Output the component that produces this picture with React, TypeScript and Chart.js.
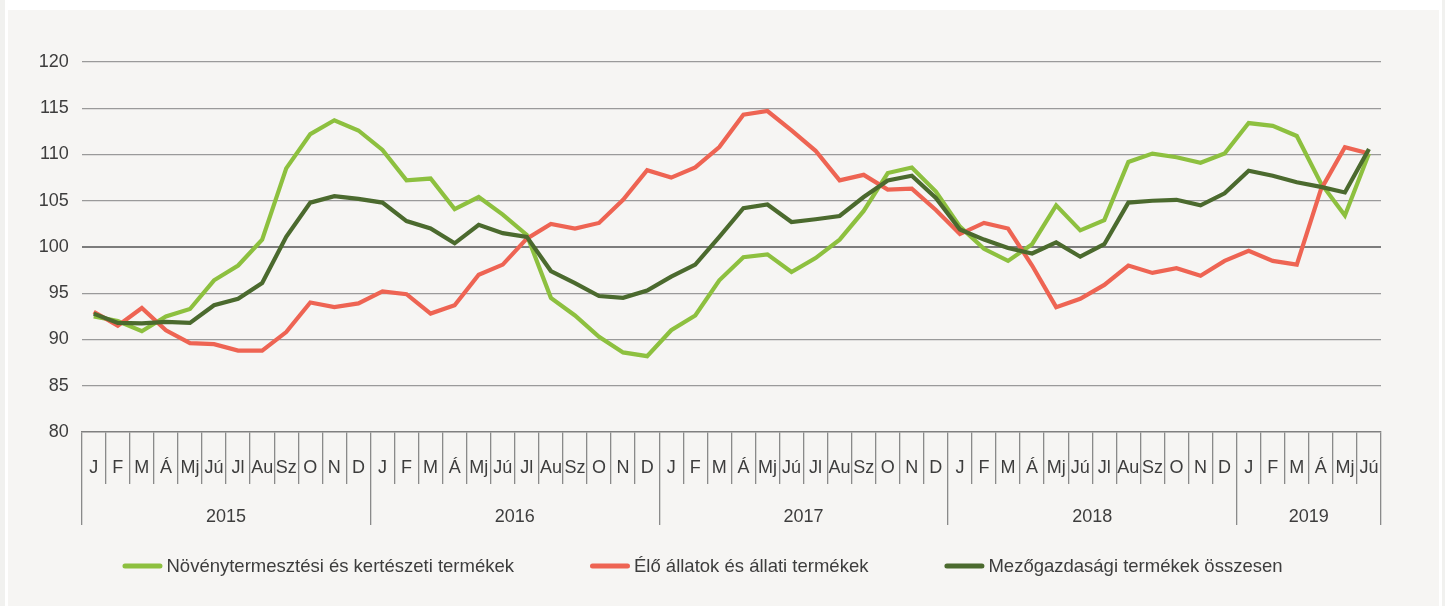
import React, { useEffect, useRef } from 'react';
import { Chart, registerables } from 'chart.js';

Chart.register(...registerables);

const monthNames = ['J', 'F', 'M', 'Á', 'Mj', 'Jú', 'Jl', 'Au', 'Sz', 'O', 'N', 'D'];
const years = ['2015', '2016', '2017', '2018', '2019'];
const monthsPerYear = [12, 12, 12, 12, 6];
const categories = years.flatMap((_, i) => monthNames.slice(0, monthsPerYear[i]));

const seriesNames = [
  'Növénytermesztési és kertészeti termékek',
  'Élő állatok és állati termékek',
  'Mezőgazdasági termékek összesen',
];

const novenyValues = [
  92.5, 92.0, 90.9, 92.5, 93.3, 96.4, 98.0, 100.8, 108.5, 112.2, 113.7, 112.6,
  110.5, 107.2, 107.4, 104.1, 105.4, 103.5, 101.3, 94.5, 92.6, 90.3, 88.6, 88.2,
  91.0, 92.6, 96.4, 98.9, 99.2, 97.3, 98.8, 100.8, 103.9, 108.0, 108.6, 106.0,
  102.2, 99.8, 98.5, 100.3, 104.5, 101.8, 102.9, 109.2, 110.1, 109.7, 109.1, 110.1,
  113.4, 113.1, 112.0, 106.9, 103.4, 110.1,
];

const eloValues = [
  93.0, 91.5, 93.4, 91.0, 89.6, 89.5, 88.8, 88.8, 90.8, 94.0, 93.5, 93.9,
  95.2, 94.9, 92.8, 93.7, 97.0, 98.1, 100.9, 102.5, 102.0, 102.6, 105.1, 108.3,
  107.5, 108.6, 110.8, 114.3, 114.7, 112.6, 110.4, 107.2, 107.8, 106.2, 106.3, 104.0,
  101.4, 102.6, 102.0, 98.0, 93.5, 94.4, 95.9, 98.0, 97.2, 97.7, 96.9, 98.5,
  99.6, 98.5, 98.1, 106.2, 110.8, 110.1,
];

const osszesValues = [
  92.8, 91.8, 91.75, 91.9, 91.8, 93.7, 94.4, 96.1, 101.1, 104.8, 105.5, 105.2,
  104.8, 102.8, 102.0, 100.4, 102.4, 101.5, 101.1, 97.4, 96.1, 94.7, 94.5, 95.3,
  96.8, 98.1, 101.1, 104.2, 104.6, 102.7, 103.0, 103.35, 105.4, 107.2, 107.7, 105.3,
  101.9, 100.8, 99.9, 99.3, 100.5, 98.95, 100.3, 104.8, 105.0, 105.1, 104.5, 105.8,
  108.25, 107.7, 107.0, 106.5, 105.9, 110.6,
];

const yMin = 80;
const yMax = 120;
const yStep = 5;

const FONT = "'Liberation Sans Narrow', 'Arial Narrow', 'Liberation Sans', Arial, sans-serif";
const FS = 18;
const LEGEND_FS = 18.5;
const TEXT = '#3d3d3d';
const colors = ['#8DC03F', '#EE6453', '#4B6A2E'];

// year boundaries and centres on the category index scale
const boundaries: number[] = [];
const yearCenters: { value: number; label: string }[] = [];
{
  let start = 0;
  boundaries.push(-0.5);
  monthsPerYear.forEach((n, i) => {
    yearCenters.push({ value: start + n / 2 - 0.5, label: years[i] });
    start += n;
    boundaries.push(start - 0.5);
  });
}

const bottomLegend = {
  id: 'bottomLegend',
  afterDraw(chart: any) {
    const ctx = chart.ctx as CanvasRenderingContext2D;
    const area = chart.chartArea;
    ctx.save();
    ctx.font = `${LEGEND_FS}px ${FONT}`;
    const sample = 40;
    const gapText = 4;
    const gapItem = 76;
    const items = chart.data.datasets.map((ds: any) => ({
      text: ds.label as string,
      color: ds.borderColor as string,
      w: ctx.measureText(ds.label).width,
    }));
    const total =
      items.reduce((s: number, it: any) => s + sample + gapText + it.w, 0) + gapItem * (items.length - 1);
    let x = chart.width / 2 - 20 - total / 2;
    const y = area.bottom + 134;
    ctx.textBaseline = 'middle';
    ctx.textAlign = 'left';
    items.forEach((it: any) => {
      ctx.strokeStyle = it.color;
      ctx.lineWidth = 5;
      ctx.lineCap = 'round';
      ctx.beginPath();
      ctx.moveTo(x + 2.5, y);
      ctx.lineTo(x + sample - 2.5, y);
      ctx.stroke();
      ctx.fillStyle = TEXT;
      ctx.fillText(it.text, x + sample + gapText, y + 1);
      x += sample + gapText + it.w + gapItem;
    });
    ctx.restore();
  },
};

export default function App() {
  const ref = useRef<HTMLCanvasElement | null>(null);

  useEffect(() => {
    if (!ref.current) return;
    const chart = new Chart(ref.current, {
      type: 'line',
      data: {
        labels: categories,
        datasets: [novenyValues, eloValues, osszesValues].map((vals, i) => ({
          label: seriesNames[i],
          data: vals,
          borderColor: colors[i],
          backgroundColor: colors[i],
          borderWidth: 4.2,
          pointRadius: 0,
          tension: 0,
          fill: false,
          order: 3 - i,
        })),
      },
      plugins: [bottomLegend],
      options: {
        animation: false,
        responsive: true,
        maintainAspectRatio: false,
        layout: { padding: { left: 24, right: 64, top: 62, bottom: 76 } },
        plugins: {
          tooltip: { enabled: false },
          legend: { display: false },
        },
        scales: {
          y: {
            min: yMin,
            max: yMax,
            afterFit: (s: any) => {
              s.width = 57.7;
            },
            ticks: {
              stepSize: yStep,
              padding: 13,
              color: TEXT,
              font: { family: FONT, size: FS },
            },
            border: { display: false },
            grid: {
              drawTicks: false,
              color: (ctx: any) => {
                const v = ctx.tick && ctx.tick.value;
                if (v === yMin) return 'rgba(0,0,0,0)';
                if (v === 100) return '#7c7c7c';
                return '#9a9a9a';
              },
              lineWidth: (ctx: any) => (ctx.tick && ctx.tick.value === 100 ? 2 : 1.2),
            },
          },
          x: {
            type: 'category',
            position: 'bottom',
            offset: true,
            afterFit: (s: any) => {
              s.height = 52;
            },
            border: { display: true, color: '#808080', width: 1.5 },
            grid: {
              offset: true,
              drawOnChartArea: false,
              drawTicks: true,
              tickLength: 52,
              color: '#8a8a8a',
              lineWidth: 1.3,
            },
            ticks: {
              autoSkip: false,
              maxRotation: 0,
              minRotation: 0,
              padding: -26.8,
              color: TEXT,
              font: { family: FONT, size: FS },
            },
          },
          x2: {
            type: 'linear',
            position: 'bottom',
            min: -0.5,
            max: categories.length - 0.5,
            afterFit: (s: any) => {
              s.height = 46;
            },
            afterBuildTicks: (s: any) => {
              s.ticks = [
                ...boundaries.map((v) => ({ value: v })),
                ...yearCenters.map((c) => ({ value: c.value })),
              ].sort((a, b) => a.value - b.value);
            },
            border: { display: false },
            grid: {
              drawOnChartArea: false,
              drawTicks: true,
              tickLength: 41,
              color: (ctx: any) =>
                ctx.tick && boundaries.includes(ctx.tick.value) ? '#8a8a8a' : 'rgba(0,0,0,0)',
              lineWidth: 1.3,
            },
            ticks: {
              autoSkip: false,
              maxRotation: 0,
              minRotation: 0,
              padding: -18.8,
              color: TEXT,
              font: { family: FONT, size: FS },
              callback: (value: any) => {
                const c = yearCenters.find((y) => y.value === value);
                return c ? c.label : '';
              },
            },
          },
        },
      },
    } as any);
    return () => chart.destroy();
  }, []);

  return (
    <div style={{ position: 'absolute', left: 0, top: 0, width: 1445, height: 606, background: '#F1F1EF', overflow: 'hidden' }}>
      <div
        style={{
          position: 'absolute',
          left: 5,
          top: 0,
          width: 1431,
          height: 700,
          background: '#F6F5F3',
          borderLeft: '3px solid #fff',
          borderRight: '3px solid #fff',
          borderTop: '10px solid #fff',
        }}
      />
      <div style={{ position: 'absolute', left: 0, top: 0, width: 1445, height: 606 }}>
        <canvas ref={ref} />
      </div>
    </div>
  );
}
